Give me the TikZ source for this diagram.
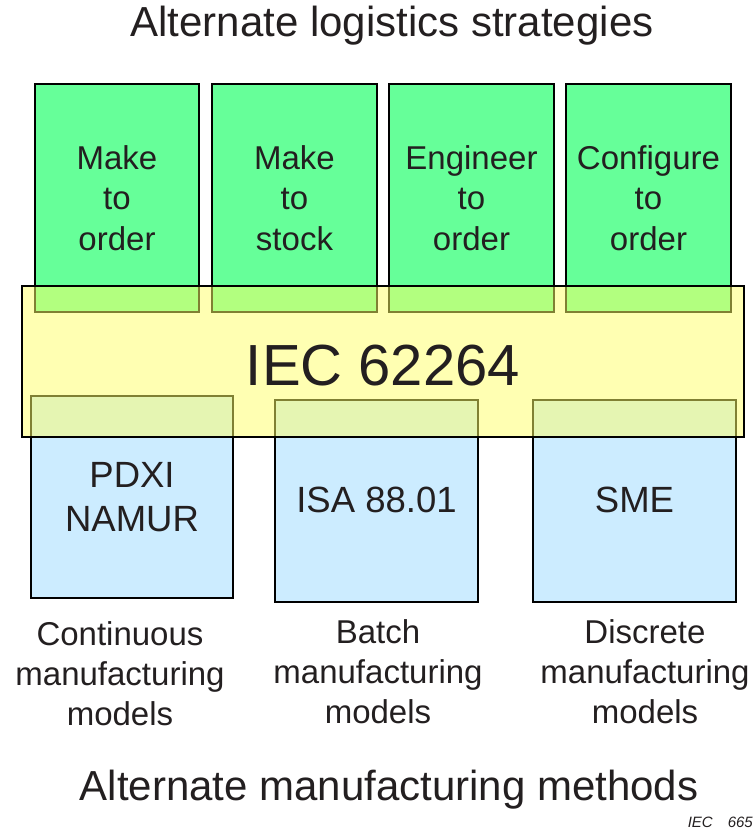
\documentclass[tikz,border=0pt]{standalone}
\usepackage{fontspec}
\setmainfont{Liberation Sans}
\definecolor{boxgreen}{HTML}{66FF99}
\definecolor{boxblue}{HTML}{CCECFF}
\definecolor{boxyellow}{HTML}{FFFF66}
\definecolor{ink}{HTML}{231F20}
\begin{document}
\begin{tikzpicture}[x=1pt,y=-1pt,
  greenbox/.style={draw=black,line width=1.1pt,fill=boxgreen},
  bluebox/.style={draw=black,line width=1.1pt,fill=boxblue},
  yellowbox/.style={draw=black,line width=1.3pt,fill=boxyellow,fill opacity=0.5},
  boxtext/.style={text=ink,align=center,inner sep=0pt,font=\fontsize{33}{40.5}\selectfont},
  bluetext/.style={text=ink,align=center,inner sep=0pt,font=\fontsize{36.5}{44}\selectfont},
  labeltext/.style={text=ink,align=center,inner sep=0pt,font=\fontsize{33}{40}\selectfont},
  titletext/.style={text=ink,inner sep=0pt,font=\fontsize{42}{48}\selectfont}]
\useasboundingbox (0,0) rectangle (753,829);
% green boxes
\draw[greenbox] (35,84) rectangle (199,312);
\draw[greenbox] (212,84) rectangle (377,312);
\draw[greenbox] (389,84) rectangle (554,312);
\draw[greenbox] (566,84) rectangle (731,312);
% blue boxes
\draw[bluebox] (31,396) rectangle (233,598);
\draw[bluebox] (275,400) rectangle (478,602);
\draw[bluebox] (533,400) rectangle (736,602);
% yellow band
\draw[yellowbox] (22,286) rectangle (744,437);
% texts
\node[titletext] (title) at (392,26) {Alternate logistics strategies};
\node[boxtext] (g1) at (117,198) {Make\\to\\order};
\node[boxtext] (g2) at (294.5,198) {Make\\to\\stock};
\node[boxtext] (g3) at (471.5,198) {Engineer\\to\\order};
\node[boxtext] (g4) at (648.5,198) {Configure\\to\\order};
\node[text=ink,inner sep=0pt,font=\fontsize{58}{64}\selectfont] (iec) at (383,366) {IEC 62264};
\node[bluetext] (b1) at (132,497) {PDXI\\NAMUR};
\node[bluetext] (b2) at (376.5,500) {ISA 88.01};
\node[bluetext] (b3) at (634.5,500) {SME};
\node[labeltext] (l1) at (120,674) {Continuous\\manufacturing\\models};
\node[labeltext] (l2) at (378,672) {Batch\\manufacturing\\models};
\node[labeltext] (l3) at (645,672) {Discrete\\manufacturing\\models};
\node[titletext] (bottom) at (389,790) {Alternate manufacturing methods};
\node[text=ink,inner sep=0pt,anchor=east,font=\fontsize{15}{17}\itshape] (ref) at (753,822) {IEC\quad 665};
\end{tikzpicture}
\end{document}
